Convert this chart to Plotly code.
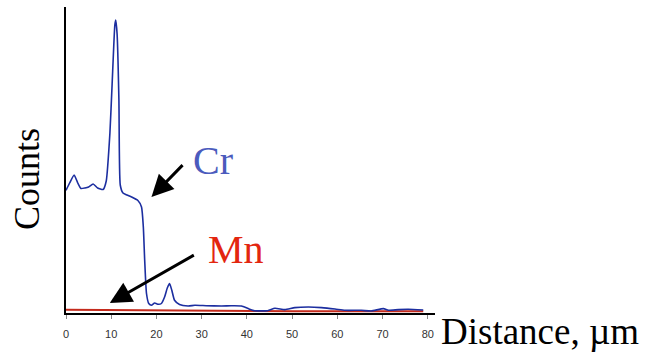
import plotly.graph_objects as go

# Cr line scan (x in µm, counts in arbitrary units)
cr_x = [0, 0.8, 1.8, 2.6, 3.3, 4.2, 5.0, 6.0, 7.0, 8.2, 8.9, 9.7, 10.2, 10.8, 11.0, 11.3,
        11.7, 12.0, 12.6, 13.5, 14.5, 15.9, 16.7, 17.1, 17.4, 17.8, 18.3, 18.9, 19.6, 20.4,
        21.1, 21.8, 22.4, 22.9, 23.4, 24.0, 25.1, 27.0, 28.5, 31.0, 34.4, 36.5, 38.8, 40.3,
        41.7, 44.6, 46.2, 48.4, 50.6, 53.6, 56.5, 59.5, 61.7, 65.3, 67.5, 70.2, 71.3, 73.5,
        75.7, 79.0]
cr_y = [122.7, 130, 138, 130, 124.5, 125, 126, 129, 125, 123.5, 132, 179, 229, 288, 293, 279,
        213, 128, 120, 118, 116, 112.5, 106, 86, 53, 19.5, 9.5, 7.7, 10, 8.7,
        9.5, 16, 25, 29.5, 22.7, 12.7, 8.5, 7, 7.7, 7.3, 7, 7.2, 7, 4.4,
        2.3, 2.3, 4.7, 3.4, 5.4, 6, 5.4, 4, 2.7, 2.7, 2, 4.4, 2.7, 3.4,
        3.7, 3]

# Mn line scan
mn_x = [0, 5, 10, 15, 20, 25, 30, 40, 50, 60, 70, 79]
mn_y = [3.2, 3.0, 3.2, 2.7, 2.5, 2.4, 2.2, 2.0, 1.8, 1.8, 1.7, 1.8]

x_ticks = [0, 10, 20, 30, 40, 50, 60, 70, 80]

fig = go.Figure()
fig.add_trace(go.Scatter(x=mn_x, y=mn_y, mode="lines",
                         line=dict(color="#c42a1c", width=2), name="Mn"))
fig.add_trace(go.Scatter(x=cr_x, y=cr_y, mode="lines",
                         line=dict(color="#1c2ea0", width=1.6, shape="spline", smoothing=0.5),
                         name="Cr"))

serif = "Liberation Serif, Times New Roman, serif"

fig.update_layout(
    width=646, height=354,
    margin=dict(l=66, r=211, t=7, b=41),
    paper_bgcolor="white", plot_bgcolor="white",
    showlegend=False,
    xaxis=dict(range=[0, 81.6], tickvals=x_ticks, showgrid=False, zeroline=False,
               showline=True, linecolor="black", linewidth=2,
               ticks="outside", ticklen=4, tickcolor="#888", tickwidth=1,
               tickfont=dict(family="Liberation Sans Narrow, Arial Narrow, sans-serif",
                             size=11, color="#333"),
               ticklabelstandoff=6),
    yaxis=dict(range=[0, 306], showgrid=False, zeroline=False, showticklabels=False,
               showline=True, linecolor="black", linewidth=2, ticks=""),
    annotations=[
        dict(text="Cr", x=32.6, y=152.7, xref="x", yref="y", showarrow=False,
             font=dict(family=serif, size=40, color="#4b5bbd"),
             xanchor="center", yanchor="middle"),
        dict(text="Mn", x=37.6, y=63.2, xref="x", yref="y", showarrow=False,
             font=dict(family=serif, size=40, color="#e3260f"),
             xanchor="center", yanchor="middle"),
        dict(text="", x=18.9, y=116, ax=26.1, ay=149.4, xref="x", yref="y",
             axref="x", ayref="y", showarrow=True, arrowhead=2, arrowsize=1.45,
             arrowwidth=3, arrowcolor="black", standoff=0),
        dict(text="", x=9.67, y=10, ax=28.6, ay=58.7, xref="x", yref="y",
             axref="x", ayref="y", showarrow=True, arrowhead=2, arrowsize=1.45,
             arrowwidth=3, arrowcolor="black", standoff=0),
        dict(text="Counts", x=-0.1057, y=0.438, xref="paper", yref="paper",
             showarrow=False, textangle=-90,
             font=dict(family=serif, size=36, color="black"),
             xanchor="center", yanchor="middle"),
        dict(text="Distance, µm", x=1.285, y=-0.0605, xref="paper", yref="paper",
             showarrow=False,
             font=dict(family=serif, size=37, color="black"),
             xanchor="center", yanchor="middle"),
    ],
)

fig.write_html("out.html")
